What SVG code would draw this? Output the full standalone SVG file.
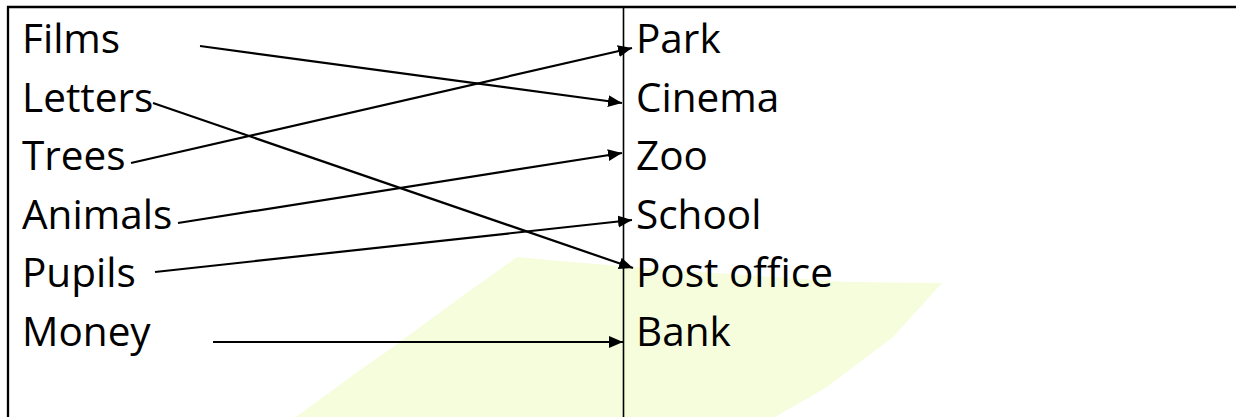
<svg xmlns="http://www.w3.org/2000/svg" width="1236" height="417" viewBox="0 0 1236 417">
  <style>
    .t { font-family: "Open Sans", "Noto Sans", "Liberation Sans", sans-serif; font-size: 40.5px; fill: #000; }
    .c { stroke: #000; stroke-width: 2.2; fill: none; marker-end: url(#ah); }
    .frame { stroke: #000; fill: none; }
  </style>
  <defs>
    <marker id="ah" markerUnits="userSpaceOnUse" markerWidth="16" markerHeight="14" refX="14" refY="6" orient="auto">
      <path d="M0,0 L14,6 L0,12 z" fill="#000"/>
    </marker>
  </defs>
  <rect width="1236" height="417" fill="#fff"/>
  <polygon id="watermark" points="517,257 560,261 620,266 700,272 847,282 942,283 893,337 827,387 775,417 296,417 360,370 393,347 457,300" fill="#F6FDDC"/>
  <g id="frame">
    <path class="frame" d="M1236,7 H8 V417" stroke-width="2.3"/>
    <line class="frame" x1="623.5" y1="7" x2="623.5" y2="417" stroke-width="1.6"/>
  </g>
  <g id="left">
    <g id="films"><text class="t" x="22" y="53">Films</text></g>
    <g id="letters"><text class="t" x="22" y="111.5">Letters</text></g>
    <g id="trees"><text class="t" x="22" y="170">Trees</text></g>
    <g id="animals"><text class="t" x="22" y="228.5">Animals</text></g>
    <g id="pupils"><text class="t" x="22" y="287">Pupils</text></g>
    <g id="money"><text class="t" x="22" y="345.5">Money</text></g>
  </g>
  <g id="right">
    <g id="park"><text class="t" x="636" y="53">Park</text></g>
    <g id="cinema"><text class="t" x="636" y="111.5">Cinema</text></g>
    <g id="zoo"><text class="t" x="636" y="170">Zoo</text></g>
    <g id="school"><text class="t" x="636" y="228.5">School</text></g>
    <g id="postoffice"><text class="t" x="636" y="287">Post office</text></g>
    <g id="bank"><text class="t" x="636" y="345.5">Bank</text></g>
  </g>
  <g id="connectors">
    <line class="c" x1="200" y1="46" x2="622" y2="103"/>
    <line class="c" x1="153" y1="103" x2="633" y2="268"/>
    <line class="c" x1="131" y1="163" x2="632" y2="48"/>
    <line class="c" x1="178" y1="223" x2="622" y2="153"/>
    <line class="c" x1="155" y1="272" x2="632" y2="220"/>
    <line class="c" x1="213" y1="342" x2="623" y2="342"/>
  </g>
</svg>
